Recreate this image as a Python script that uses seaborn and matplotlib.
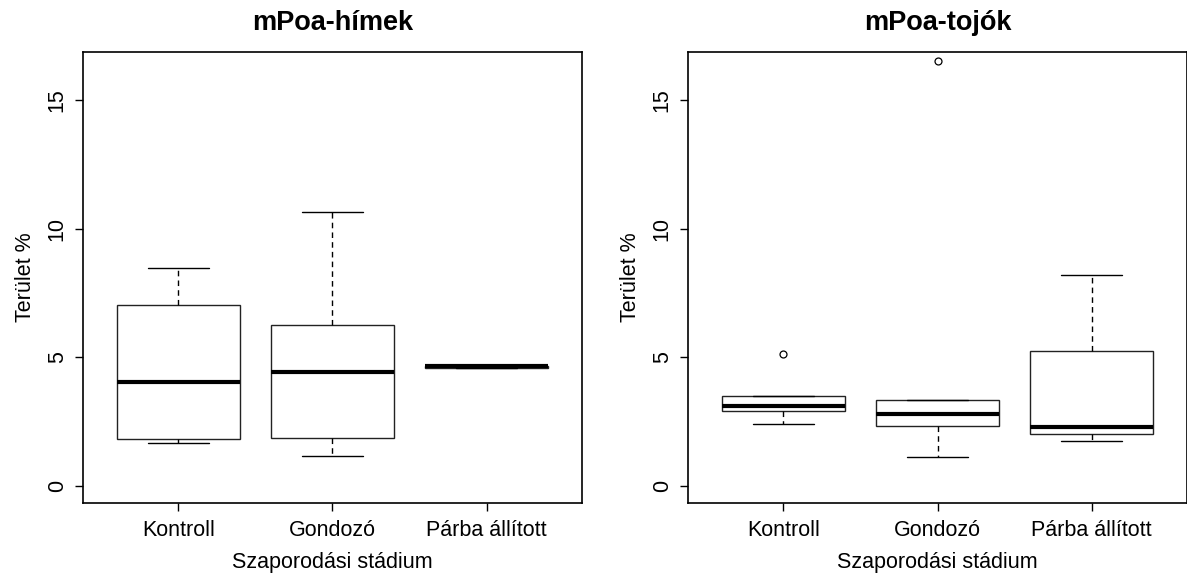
import matplotlib
matplotlib.use("Agg")
import matplotlib.pyplot as plt
import seaborn as sns
import pandas as pd
import numpy as np

# ---- data ----
categories = ["Kontroll", "Gondozó", "Párba állított"]

# mPoa-hímek (males)
him_kontroll = [1.67, 1.83, 4.04, 7.03, 8.47]
him_gondozo = [1.18, 1.88, 4.44, 6.27, 10.65]
him_parba = [4.57, 4.57, 4.65, 4.68, 4.68]

# mPoa-tojók (females)
toj_kontroll = [2.42, 2.90, 3.12, 3.50, 5.12]
toj_gondozo = [1.12, 2.32, 2.81, 3.35, 16.53]
toj_parba = [1.74, 2.01, 2.29, 5.26, 8.21]

titles = ["mPoa-hímek", "mPoa-tojók"]
xlabel = "Szaporodási stádium"
ylabel = "Terület %"
yticks = [0, 5, 10, 15]


def make_df(groups):
    rows = []
    for cat, vals in zip(categories, groups):
        for v in vals:
            rows.append({"stadium": cat, "value": v})
    return pd.DataFrame(rows)


dfs = [make_df([him_kontroll, him_gondozo, him_parba]),
       make_df([toj_kontroll, toj_gondozo, toj_parba])]

sns.set_style("white")
plt.rcParams["font.family"] = ["Liberation Sans", "DejaVu Sans"]
plt.rcParams["text.color"] = "black"
plt.rcParams["axes.labelcolor"] = "black"
plt.rcParams["xtick.color"] = "black"
plt.rcParams["ytick.color"] = "black"

W, H = 1187, 578
fig = plt.figure(figsize=(W / 100, H / 100), dpi=100)

frames = [(83, 582), (688, 1187)]
top_px, bot_px = 52, 503

for (x0, x1), df, title in zip(frames, dfs, titles):
    ax = fig.add_axes([x0 / W, 1 - bot_px / H, (x1 - x0) / W, (bot_px - top_px) / H])
    sns.boxplot(
        data=df, x="stadium", y="value", order=categories, ax=ax,
        color="white", linecolor="black", linewidth=1.0, width=0.8,
        whis=1.5, fill=True,
        boxprops=dict(facecolor="white", edgecolor="#222222", linewidth=1.0),
        whiskerprops=dict(linestyle=(0, (4, 3)), color="black", linewidth=1.0),
        capprops=dict(color="black", linewidth=1.0),
        medianprops=dict(color="black", linewidth=3.0, solid_capstyle="butt"),
        flierprops=dict(marker="o", markerfacecolor="none",
                        markeredgecolor="black", markersize=5, markeredgewidth=0.9),
    )
    ax.set_xlim(-0.62, 2.62)
    ax.set_ylim(-0.66, 16.87)
    ax.set_yticks(yticks)
    ax.set_yticklabels([str(t) for t in yticks], rotation=90, va="center")
    ax.tick_params(axis="both", direction="out", length=6, width=1.0,
                   color="black", labelsize=15.5, labelcolor="black")
    ax.tick_params(axis="y", pad=5)
    ax.tick_params(axis="x", pad=6)
    ax.tick_params(left=True, bottom=True)
    for s in ax.spines.values():
        s.set_visible(True)
        s.set_color("black")
        s.set_linewidth(1.2)
    ax.set_xlabel(xlabel, fontsize=15.5, labelpad=8, color="black")
    ax.set_ylabel(ylabel, fontsize=15.5, labelpad=8, color="black")
    ax.set_title(title, fontsize=19.5, fontweight="bold", pad=16, color="black")
    ax.grid(False)

fig.savefig("out.png", dpi=100, facecolor="white")
